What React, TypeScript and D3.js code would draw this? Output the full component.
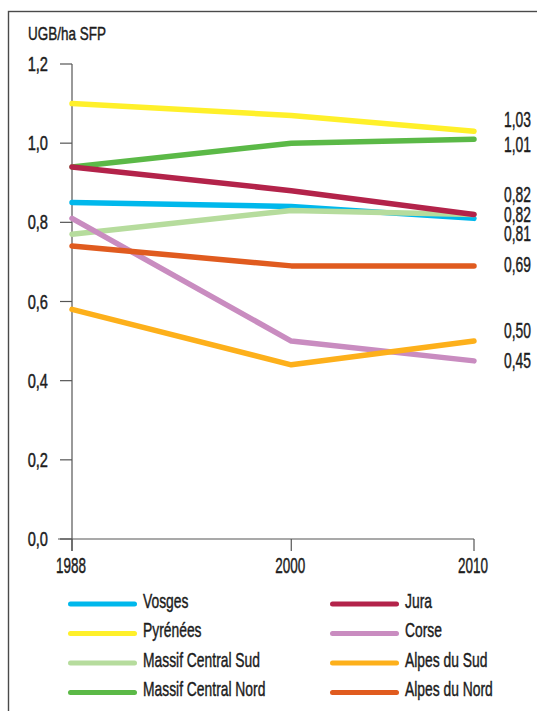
import * as d3 from "d3";

const YEARS = [1988, 2000, 2010];
const SERIES = [
  "Vosges",
  "Pyrénées",
  "Massif Central Sud",
  "Massif Central Nord",
  "Jura",
  "Corse",
  "Alpes du Sud",
  "Alpes du Nord",
];
const VOSGES = [0.85, 0.84, 0.81];
const PYRENEES = [1.1, 1.07, 1.03];
const MC_SUD = [0.77, 0.83, 0.82];
const MC_NORD = [0.94, 1.0, 1.01];
const JURA = [0.94, 0.88, 0.82];
const CORSE = [0.81, 0.5, 0.45];
const ALPES_SUD = [0.58, 0.44, 0.5];
const ALPES_NORD = [0.74, 0.69, 0.69];
const Y_TICKS = [0, 0.2, 0.4, 0.6, 0.8, 1.0, 1.2];

const VALUES = [VOSGES, PYRENEES, MC_SUD, MC_NORD, JURA, CORSE, ALPES_SUD, ALPES_NORD];
const COLORS = ["#00b8ec", "#fff02a", "#b6dc9d", "#5bb947", "#b3234a", "#c98cc0", "#fdb01b", "#e05b1f"];
// hand nudges for end labels so they don't collide (px, relative to line end)
const LABEL_DY = [15, -12, 0, 5, -20, 0, -11, -1];

const W = 537;
const H = 711;
// no condensed face available: Liberation Sans squeezed horizontally
const FONT = "'Liberation Sans', Arial, sans-serif";
const INK = "#1c1c1c";

const fr = d3.formatLocale({ decimal: ",", thousands: " ", grouping: [3], currency: ["", "€"] });
const f1 = fr.format(".1f");
const f2 = fr.format(".2f");

function T({ x, y, size, sx = 1, anchor = "start", children }: any) {
  return (
    <text
      transform={`translate(${x},${y}) scale(${sx},1)`}
      fontSize={size}
      textAnchor={anchor}
      fontFamily={FONT}
      fill={INK}
      stroke={INK}
      strokeWidth={0.45}
    >
      {children}
    </text>
  );
}

export default function App() {
  const x = d3.scaleLinear().domain([1988, 2010]).range([72, 474]);
  const y = d3.scaleLinear().domain([0, 1.2]).range([539, 64]);
  const line = d3
    .line<number>()
    .x((_, i) => x(YEARS[i]))
    .y((d) => y(d));

  const legendY = (i: number) => 604 + (i % 4) * 29.5;

  return (
    <div>
      <style>{`body{margin:0}`}</style>
      <svg width={W} height={H} style={{ display: "block" }}>
        <rect x={8.5} y={11.5} width={W + 20} height={H + 20} fill="none" stroke="#4a4a4a" strokeWidth={1.4} />

        <T x={28} y={40} size={19} sx={0.71}>UGB/ha SFP</T>

        {/* y axis */}
        <line x1={x(1988)} x2={x(1988)} y1={y(1.2)} y2={y(0) + 12} stroke="#555" strokeWidth={1.2} />
        {Y_TICKS.map((t) => (
          <g key={t}>
            <line x1={x(1988) - 12} x2={x(1988)} y1={y(t)} y2={y(t)} stroke="#555" strokeWidth={1.2} />
            <T x={48} y={y(t) + 7} size={19.5} sx={0.75} anchor="end">{f1(t)}</T>
          </g>
        ))}

        {/* x axis */}
        <line x1={x(1988) - 14} x2={x(2010)} y1={y(0)} y2={y(0)} stroke="#555" strokeWidth={1.2} />
        {YEARS.map((yr) => (
          <g key={yr}>
            <line x1={x(yr)} x2={x(yr)} y1={y(0)} y2={y(0) + 12} stroke="#555" strokeWidth={1.2} />
            <T x={x(yr) - 1} y={573} size={22.5} sx={0.6} anchor="middle">{String(yr)}</T>
          </g>
        ))}

        {/* series */}
        {VALUES.map((v, i) => (
          <path
            key={SERIES[i]}
            d={line(v) || ""}
            fill="none"
            stroke={COLORS[i]}
            strokeWidth={5.5}
            strokeLinecap="round"
            strokeLinejoin="round"
          />
        ))}

        {/* end labels */}
        {VALUES.map((v, i) => (
          <T key={SERIES[i]} x={x(2010) + 30} y={y(v[2]) + LABEL_DY[i] + 7.5} size={22} sx={0.63}>
            {f2(v[2])}
          </T>
        ))}

        {/* legend */}
        {SERIES.map((s, i) => {
          const lx = i < 4 ? 68 : 330;
          const ly = legendY(i);
          return (
            <g key={s}>
              <line
                x1={lx + 2.5}
                x2={lx + 66.5}
                y1={ly}
                y2={ly}
                stroke={COLORS[i]}
                strokeWidth={5}
                strokeLinecap="round"
              />
              <T x={lx + 75} y={ly + 3.5} size={21} sx={0.66}>{s}</T>
            </g>
          );
        })}
      </svg>
    </div>
  );
}
